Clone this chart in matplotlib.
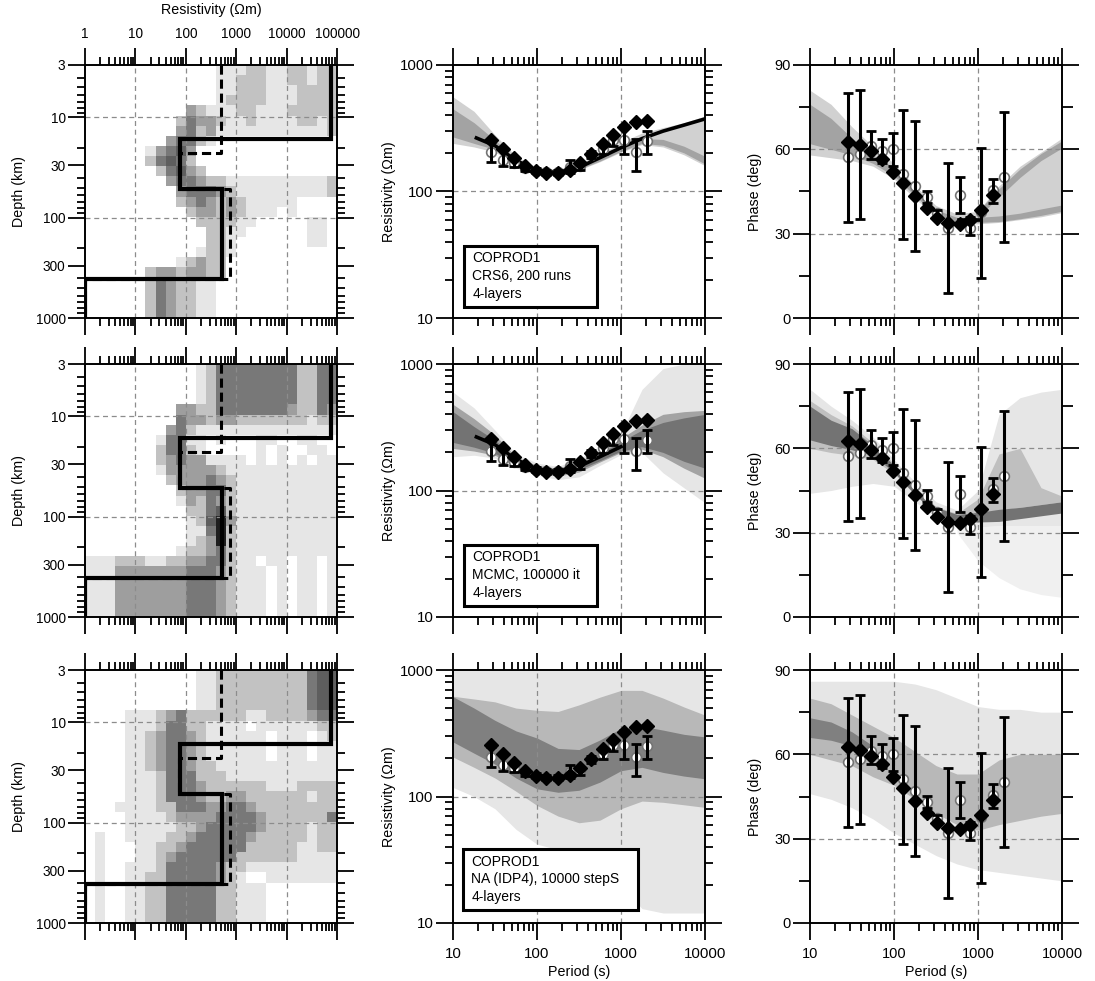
import numpy as np
import matplotlib
matplotlib.use("Agg")
import matplotlib.pyplot as plt
from matplotlib.ticker import FixedLocator, FixedFormatter, NullFormatter
from matplotlib.patches import Rectangle

plt.rcParams['font.family'] = ['Liberation Sans', 'DejaVu Sans']

# ------------------------------------------------------------------ data
period = [28.5, 39, 53, 71, 96, 129, 178, 245, 323, 445, 603, 807, 1081, 1489, 2052]
rho_a = [255, 216, 185, 159, 146, 140, 139, 147, 167, 198, 236, 278, 322, 355, 359]
rho_b = [205, 179, 169, 154, 146, 142, 142, 157, 160, 196, 218, 256, 256, 205, 249]
rho_b_lo = [171, 158, 157, 146, 139, 135, 135, 140, 149, 183, 198, 230, 199, 144, 199]
rho_b_hi = [247, 218, 183, 163, 153, 149, 149, 176, 171, 210, 240, 285, 337, 261, 300]
phase_a = [62.7, 61.5, 59.4, 56.5, 52.0, 47.9, 43.3, 39.0, 35.4, 33.8, 33.3, 35.0, 38.4, 43.8, np.nan]
phase_b = [57.1, 58.2, 61.2, 59.4, 60.0, 51.1, 46.9, 43.1, 37.2, 32.1, 43.9, 32.1, 37.8, 45.5, 50.2]
phase_b_lo = [34.2, 35.2, 56.5, 55.0, 54.0, 28.0, 23.9, 41.0, 35.5, 8.9, 37.5, 29.5, 14.4, 41.0, 27.1]
phase_b_hi = [80.2, 81.1, 66.5, 63.7, 65.9, 74.0, 70.0, 45.2, 38.5, 55.0, 50.2, 36.0, 60.3, 49.6, 73.2]

# layered models (resistivity in Ohm-m, layer bases in km)
true_rho = [77000, 77, 520, 1]
true_base = [16.5, 52, 410]
best_rho = [500, 72, 760, 1]
best_base = [22.5, 52, 410]

# posterior density of the models (rows: depth bins top->bottom, cols: resistivity bins)
crs_grid = [
    ".............111221122122",
    ".............112221122122",
    ".............112221112222",
    ".............122221112222",
    "..........321112211122222",
    ".........2433211211112212",
    ".........3423111111111112",
    "........34421............",
    "......13453..............",
    "......24542..............",
    ".......24532.............",
    "........34432211111111112",
    ".........3444321111111112",
    ".........234323211111...",
    "..........233232111.1....",
    "...........222211.....11.",
    "............2211......11.",
    "............221.......11.",
    "...........1221..........",
    ".........12322...........",
    "......23323322...........",
    "......2432211............",
    "......2432211............",
    "......2432211............",
    "......2432211............",
]
mcmc_grid = [
    "...........12444444442244",
    "...........12444444442244",
    "...........12444444442244",
    "...........12444444442244",
    ".........3322444444432243",
    ".........4332332222222122",
    "........34211111111111111",
    ".......14411.1...11..11..",
    ".......24421.....1.1..11.",
    ".......234331111.1.1.1.11",
    ".......133333211111111111",
    "........23334321111111111",
    ".........2334421111111111",
    ".........1324321111111111",
    "..........224521111111111",
    "..........125631111111111",
    "..........114621111111111",
    "..........123621111111111",
    ".........1223421111111111",
    "11122211223344211.11.11.1",
    "111333333344432111.1.11.1",
    "111333333344432111.1.11.1",
    "111333333344432111.1.11.1",
    "111333333344432111.1.11.1",
    "111333333344432111.1.11.1",
]
na_grid = [
    "...........11222222222455",
    "...........11222222222455",
    "...........11222222222455",
    "...........11222222222455",
    "....111234222222112222344",
    "....111244221111.11111122",
    "....11234432111111.111.12",
    "....11234432111111.111.11",
    "....11234432111111.111.11",
    "....112344322111111111111",
    "....111244422211111111111",
    "....111244432222221112222",
    "....111244432233222222122",
    "...1111224443344322222222",
    "....111123333444432222224",
    "....111112234444432222122",
    ".1..111122344444322222122",
    ".1...11223444444222221122",
    ".1...11234444442222221111",
    ".1..111244444322111111111",
    ".1..112244444321..1111111",
    ".1..11224444422111.......",
    ".1..11224444422111.......",
    ".1..11224444422111.......",
    ".1..11224444422111.......",
]

# response-density bands on a common period grid
T_nodes = [10, 17.8, 31.6, 56.2, 100, 178, 316, 562, 1000, 1778, 3162, 5623, 10000]

crs_rho_light_lo = [240, 225, 205, 165, 141, 136, 148, 172, 205, 235, 225, 195, 160]
crs_rho_light_hi = [560, 430, 280, 190, 155, 150, 168, 195, 245, 290, 320, 350, 395]
crs_rho_dark_lo = [270, 240, 215, 168, 143, 138, 150, 174, 208, 240, 232, 202, 165]
crs_rho_dark_hi = [450, 350, 255, 182, 150, 146, 160, 188, 228, 262, 258, 228, 190]
crs_rho_line_T = [19, 31.6, 56.2, 100, 178, 316, 562, 1000, 1778, 3162, 5623, 10000]
crs_rho_line = [265, 230, 176, 147, 141, 155, 185, 222, 262, 300, 335, 375]

crs_ph_light_lo = [58, 57, 56, 54, 49.5, 42.5, 36, 33.5, 33.5, 34, 35, 36, 37.5]
crs_ph_light_hi = [81, 76, 68, 61, 55, 47, 40, 37, 38, 47, 54, 59, 64]
crs_ph_dark_lo = [62, 60, 58, 55, 50.5, 43.5, 36.5, 34, 34, 34.3, 35.3, 36.5, 38]
crs_ph_dark_hi = [76, 71, 64, 58, 53.5, 45.5, 38.5, 35.8, 35.8, 36.3, 37.3, 38.8, 40.2]
crs_ph_up_T = [1000, 1778, 3162, 5623, 10000]
crs_ph_up_lo = [36, 43, 50, 56, 60.5]
crs_ph_up_hi = [38, 46, 53, 58.5, 63]
crs_ph_line_T = [600, 1050]
crs_ph_line = [34.8, 34.8]

mc_rho_light_lo = [185, 190, 180, 150, 132, 122, 128, 158, 192, 200, 138, 105, 80]
mc_rho_light_hi = [600, 450, 300, 195, 165, 155, 180, 215, 280, 630, 920, 1000, 1000]
mc_rho_mid_lo = [215, 205, 190, 155, 136, 130, 140, 168, 200, 212, 185, 150, 125]
mc_rho_mid_hi = [480, 370, 275, 185, 158, 150, 170, 205, 258, 330, 400, 420, 430]
mc_rho_dark_lo = [240, 220, 197, 158, 139, 135, 146, 172, 205, 222, 200, 170, 150]
mc_rho_dark_hi = [420, 320, 250, 180, 153, 147, 163, 195, 245, 300, 345, 375, 400]

mc_ph_light_lo = [44, 45, 46.5, 47.5, 46.5, 41, 35.5, 32.5, 32, 32.5, 32.5, 32.5, 32.5]
mc_ph_light_hi = [81, 75, 70, 64, 56, 48, 41, 38, 45, 72, 78, 80, 81]
mc_ph_faint_T = [562, 1000, 1778, 3162, 5623, 10000]
mc_ph_faint_lo = [30, 20, 14, 10, 8, 7]
mc_ph_faint_hi = [32.5, 32, 32.5, 32.5, 32.5, 32.5]
mc_ph_mid_lo = [60, 58.5, 57.5, 56, 51, 43.5, 36.8, 34, 33.8, 38, 39, 40, 41]
mc_ph_mid_hi = [77, 72, 68, 62, 54.5, 46, 39.3, 36.8, 42, 58, 60, 46, 43]
mc_ph_dark_lo = [63, 61, 59.5, 57.5, 51.5, 43.5, 36.8, 34.2, 33.8, 34, 35, 36, 37]
mc_ph_dark_hi = [75, 70, 67, 61, 54, 46, 39, 36.5, 37.2, 38.3, 39, 40, 41]

na_rho_vlight_lo = [118, 100, 80, 55, 42, 38, 33, 27, 20, 13, 12, 12, 12]
na_rho_vlight_hi = [1000] * 13
na_rho_mid_lo = [205, 170, 140, 110, 85, 70, 62, 65, 80, 92, 90, 86, 82]
na_rho_mid_hi = [620, 590, 560, 500, 480, 470, 530, 610, 690, 690, 600, 510, 440]
na_rho_dark_lo = [270, 220, 180, 140, 115, 108, 112, 130, 160, 170, 155, 145, 138]
na_rho_dark_hi = [615, 500, 400, 330, 290, 240, 235, 280, 345, 360, 335, 310, 296]

na_ph_vlight_lo = [46, 44, 41, 37, 32, 28, 24, 21, 19, 18, 17, 16, 15]
na_ph_vlight_hi = [86, 86, 86, 86, 86, 85, 83, 80, 77, 76, 76, 75, 75]
na_ph_mid_lo = [60, 58, 56, 52, 49, 44, 39, 35, 33, 35, 36.5, 38, 39]
na_ph_mid_hi = [80, 78, 74, 70, 66, 61, 56, 53, 53, 58, 60, 60, 60]
na_ph_dark_T = [10, 17.8, 31.6, 56.2]
na_ph_dark_lo = [66, 65, 63, 60]
na_ph_dark_hi = [73, 71.5, 68, 63]

depth_ticks = [3, 10, 30, 100, 300, 1000]
res_ticks = [1, 10, 100, 1000, 10000, 100000]
period_ticks = [10, 100, 1000, 10000]
rhoa_ticks = [10, 100, 1000]
phase_ticks = [0, 30, 60, 90]

box_texts = ["COPROD1\nCRS6, 200 runs\n4-layers",
             "COPROD1\nMCMC, 100000 it\n4-layers",
             "COPROD1\nNA (IDP4), 10000 stepS\n4-layers"]

# ------------------------------------------------------------------ styling helpers
GRAY = {'.': 1.0, '1': 0.9, '2': 0.76, '3': 0.62, '4': 0.47, '5': 0.37, '6': 0.12}
C_VL, C_L, C_M, C_D = '0.9', '0.82', '0.64', '0.45'
LAB = 10.3

W, H = 1095, 981
fig = plt.figure(figsize=(W / 100, H / 100), dpi=100)
col_x = [85, 453, 810]
row_top = [65, 364, 670]
PW, PH = 252, 253


def add_ax(r, c):
    return fig.add_axes([col_x[c] / W, 1 - (row_top[r] + PH) / H, PW / W, PH / H])


def log_minor(lo_exp, hi_exp):
    return [m * 10.0 ** e for e in range(lo_exp, hi_exp) for m in range(2, 10)]


def style(ax, size):
    for s in ax.spines.values():
        s.set_linewidth(1.4)
        s.set_zorder(6)
    ax.tick_params(which='both', direction='out', top=True, right=True,
                   bottom=True, left=True, width=1.3, labelsize=size, colors='black')
    ax.tick_params(which='major', length=12)
    ax.tick_params(which='minor', length=6)
    ax.tick_params(axis='y', pad=2)
    ax.tick_params(axis='x', pad=5)


def grid(ax, xs, ys):
    for x in xs:
        ax.axvline(x, color='0.55', lw=0.9, ls=(0, (4, 3)), zorder=1.5)
    for y in ys:
        ax.axhline(y, color='0.55', lw=0.9, ls=(0, (4, 3)), zorder=1.5)


def step_model(rho, base):
    xs, ys = [], []
    tops = [3] + list(base)
    bots = list(base) + [1000]
    for r, t, b in zip(rho, tops, bots):
        xs += [r, r]
        ys += [t, b]
    return xs, ys


rho_edges = np.logspace(0, 5, 26)
depth_edges = np.logspace(np.log10(3), 3, 26)

grids = [crs_grid, mcmc_grid, na_grid]

for r in range(3):
    # ---------------- depth model panel
    ax = add_ax(r, 0)
    vals = np.array([[GRAY[ch] for ch in row.ljust(25, '.')[:25]] for row in grids[r]])
    ax.pcolormesh(rho_edges, depth_edges, vals, cmap='gray', vmin=0, vmax=1,
                  shading='flat', edgecolors='none', antialiased=False, zorder=0.5)
    ax.set_xscale('log')
    ax.set_yscale('log')
    ax.set_xlim(1, 1e5)
    ax.set_ylim(1000, 3)
    grid(ax, [10, 100, 1000, 10000], [10, 100])
    tx, ty = step_model(true_rho, true_base)
    ax.plot(tx, ty, color='black', lw=3.0, zorder=3, solid_joinstyle='miter')
    bx, by = step_model(best_rho, best_base)
    ax.plot(bx, by, color='black', lw=2.2, ls=(0, (3, 1.6)), zorder=3.5)
    ax.xaxis.set_major_locator(FixedLocator(res_ticks))
    ax.xaxis.set_major_formatter(FixedFormatter([str(v) for v in res_ticks]))
    ax.xaxis.set_minor_locator(FixedLocator(log_minor(0, 5)))
    ax.xaxis.set_minor_formatter(NullFormatter())
    ax.yaxis.set_major_locator(FixedLocator(depth_ticks))
    ax.yaxis.set_major_formatter(FixedFormatter([str(v) for v in depth_ticks]))
    ax.yaxis.set_minor_locator(FixedLocator([v for v in log_minor(0, 3) if v >= 3 and v not in (3, 30, 300)]))
    ax.yaxis.set_minor_formatter(NullFormatter())
    style(ax, 9.8)
    if r == 0:
        ax.tick_params(labeltop=True, labelbottom=False)
        ax.xaxis.set_label_position('top')
        ax.set_xlabel('Resistivity (\u03a9m)', fontsize=LAB)
        ax.xaxis.set_label_coords(0.5, 1.2)
    else:
        ax.tick_params(labeltop=False, labelbottom=False)
    ax.set_ylabel('Depth (km)', fontsize=LAB)
    ax.yaxis.set_label_coords(-0.235, 0.5)

    # ---------------- apparent resistivity panel
    ax = add_ax(r, 1)
    ax.set_xscale('log')
    ax.set_yscale('log')
    ax.set_xlim(10, 1e4)
    ax.set_ylim(10, 1000)
    if r == 0:
        ax.fill_between(T_nodes, crs_rho_light_lo, crs_rho_light_hi, color=C_L, lw=0, zorder=0.5)
        ax.fill_between(T_nodes, crs_rho_dark_lo, crs_rho_dark_hi, color=C_M, lw=0, zorder=0.6)
        ax.plot(crs_rho_line_T, crs_rho_line, color='black', lw=2.6, zorder=2.8)
    elif r == 1:
        ax.fill_between(T_nodes, mc_rho_light_lo, mc_rho_light_hi, color=C_VL, lw=0, zorder=0.5)
        ax.fill_between(T_nodes, mc_rho_mid_lo, mc_rho_mid_hi, color=C_M, lw=0, zorder=0.6)
        ax.fill_between(T_nodes, mc_rho_dark_lo, mc_rho_dark_hi, color=C_D, lw=0, zorder=0.7)
        ax.plot(crs_rho_line_T[:8], crs_rho_line[:8], color='black', lw=2.6, zorder=2.8)
    else:
        ax.fill_between(T_nodes, na_rho_vlight_lo, na_rho_vlight_hi, color=C_VL, lw=0, zorder=0.5)
        ax.fill_between(T_nodes, na_rho_mid_lo, na_rho_mid_hi, color='0.72', lw=0, zorder=0.6)
        ax.fill_between(T_nodes, na_rho_dark_lo, na_rho_dark_hi, color='0.5', lw=0, zorder=0.7)
    grid(ax, [100, 1000], [100])
    ax.plot(period, rho_b, ls='none', marker='o', ms=7, mfc='white', mec='0.45', mew=1.2, zorder=3.5)
    ax.errorbar(period, rho_b,
                yerr=[np.array(rho_b) - np.array(rho_b_lo), np.array(rho_b_hi) - np.array(rho_b)],
                fmt='none', ecolor='black', elinewidth=2.2, capsize=3.5, capthick=2, zorder=4)
    ax.plot(period, rho_a, ls='none', marker='D', ms=7, color='black', zorder=5)
    ax.xaxis.set_major_locator(FixedLocator(period_ticks))
    ax.xaxis.set_major_formatter(FixedFormatter([str(v) for v in period_ticks]))
    ax.xaxis.set_minor_locator(FixedLocator(log_minor(1, 4)))
    ax.xaxis.set_minor_formatter(NullFormatter())
    ax.yaxis.set_major_locator(FixedLocator(rhoa_ticks))
    ax.yaxis.set_major_formatter(FixedFormatter([str(v) for v in rhoa_ticks]))
    ax.yaxis.set_minor_locator(FixedLocator(log_minor(1, 3)))
    ax.yaxis.set_minor_formatter(NullFormatter())
    style(ax, 10.8)
    if r == 2:
        ax.set_xlabel('Period (s)', fontsize=LAB)
        ax.xaxis.set_label_coords(0.5, -0.165)
        bx0, bx1, by0, by1 = 0.040, 0.734, 0.051, 0.292
    else:
        ax.tick_params(labelbottom=False)
        bx0, bx1, by0, by1 = 0.044, 0.571, 0.043, 0.285
    ax.set_ylabel('Resistivity (\u03a9m)', fontsize=LAB)
    ax.yaxis.set_label_coords(-0.225, 0.5)
    ax.add_patch(Rectangle((bx0, by0), bx1 - bx0, by1 - by0, transform=ax.transAxes,
                           fc='white', ec='black', lw=2.2, zorder=7))
    ax.text(bx0 + 0.032, by1 - 0.022, box_texts[r], transform=ax.transAxes,
            ha='left', va='top', fontsize=10, linespacing=1.33, zorder=8)

    # ---------------- phase panel
    ax = add_ax(r, 2)
    ax.set_xscale('log')
    ax.set_xlim(10, 1e4)
    ax.set_ylim(0, 90)
    if r == 0:
        ax.fill_between(T_nodes, crs_ph_light_lo, crs_ph_light_hi, color=C_L, lw=0, zorder=0.5)
        ax.fill_between(T_nodes, crs_ph_dark_lo, crs_ph_dark_hi, color=C_M, lw=0, zorder=0.6)
        ax.fill_between(crs_ph_up_T, crs_ph_up_lo, crs_ph_up_hi, color=C_M, lw=0, zorder=0.6)
        ax.plot(crs_ph_line_T, crs_ph_line, color='black', lw=2.6, zorder=2.8)
    elif r == 1:
        ax.fill_between(mc_ph_faint_T, mc_ph_faint_lo, mc_ph_faint_hi, color='0.94', lw=0, zorder=0.4)
        ax.fill_between(T_nodes, mc_ph_light_lo, mc_ph_light_hi, color=C_VL, lw=0, zorder=0.5)
        ax.fill_between(T_nodes, mc_ph_mid_lo, mc_ph_mid_hi, color='0.75', lw=0, zorder=0.6)
        ax.fill_between(T_nodes, mc_ph_dark_lo, mc_ph_dark_hi, color=C_D, lw=0, zorder=0.7)
    else:
        ax.fill_between(T_nodes, na_ph_vlight_lo, na_ph_vlight_hi, color=C_VL, lw=0, zorder=0.5)
        ax.fill_between(T_nodes, na_ph_mid_lo, na_ph_mid_hi, color='0.72', lw=0, zorder=0.6)
        ax.fill_between(na_ph_dark_T, na_ph_dark_lo, na_ph_dark_hi, color='0.5', lw=0, zorder=0.7)
    grid(ax, [100, 1000], [30, 60])
    ax.plot(period, phase_b, ls='none', marker='o', ms=7, mfc='white', mec='0.45', mew=1.2, zorder=3.5)
    ax.errorbar(period, phase_b,
                yerr=[np.array(phase_b) - np.array(phase_b_lo), np.array(phase_b_hi) - np.array(phase_b)],
                fmt='none', ecolor='black', elinewidth=2.2, capsize=3.5, capthick=2, zorder=4)
    ax.plot(period, phase_a, ls='none', marker='D', ms=7, color='black', zorder=5)
    ax.xaxis.set_major_locator(FixedLocator(period_ticks))
    ax.xaxis.set_major_formatter(FixedFormatter([str(v) for v in period_ticks]))
    ax.xaxis.set_minor_locator(FixedLocator(log_minor(1, 4)))
    ax.xaxis.set_minor_formatter(NullFormatter())
    ax.yaxis.set_major_locator(FixedLocator(phase_ticks))
    ax.yaxis.set_major_formatter(FixedFormatter([str(v) for v in phase_ticks]))
    ax.yaxis.set_minor_locator(FixedLocator([15, 45, 75]))
    ax.yaxis.set_minor_formatter(NullFormatter())
    style(ax, 10.5)
    ax.tick_params(axis='y', which='minor', length=8)
    if r == 2:
        ax.set_xlabel('Period (s)', fontsize=LAB)
        ax.xaxis.set_label_coords(0.5, -0.165)
    else:
        ax.tick_params(labelbottom=False)
    ax.set_ylabel('Phase (deg)', fontsize=LAB)
    ax.yaxis.set_label_coords(-0.19, 0.5)

fig.savefig('out.png', dpi=100)
